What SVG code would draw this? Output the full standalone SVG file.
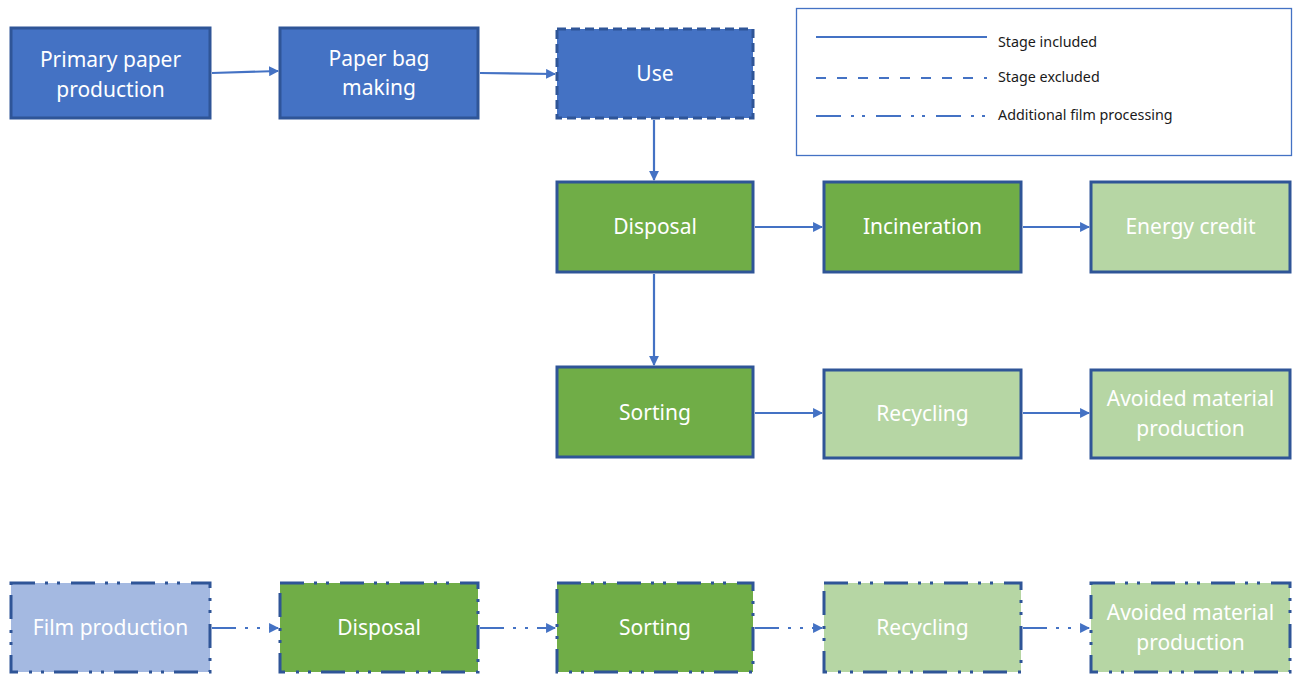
<svg xmlns="http://www.w3.org/2000/svg" width="1294" height="677" viewBox="0 0 1294 677">
  <defs>
    <marker id="arrow" viewBox="0 0 10 10" refX="9" refY="5" markerWidth="4.5" markerHeight="4.5" orient="auto" markerUnits="strokeWidth">
      <path d="M0,0 L10,5 L0,10 Z" fill="#4472C4"/>
    </marker>
    <style>
      .box { stroke: #2F5597; stroke-width: 3; }
      .blue { fill: #4472C4; }
      .lblue { fill: #A4B9E1; }
      .green { fill: #70AD47; }
      .lgreen { fill: #B6D6A4; }
      .excluded { stroke-dasharray: 9 5; }
      .film { stroke-dasharray: 24 10 3 9 3 11; }
      .label { font-family: "Noto Sans", "Open Sans", sans-serif; font-size: 21px; fill: #FFFFFF; text-anchor: middle; }
      .conn { stroke: #4472C4; stroke-width: 2.2; fill: none; }
      .conn-arrow { marker-end: url(#arrow); }
      .conn-film { stroke-dasharray: 24 9 3 9 3 9; }
      .legend-text { font-family: "Noto Sans", "Open Sans", sans-serif; font-size: 14.3px; fill: #1A1A1A; }
    </style>
  </defs>

  <!-- Legend -->
  <g id="legend">
    <rect x="796.5" y="8.5" width="495" height="147" fill="#FFFFFF" stroke="#4472C4" stroke-width="1.3"/>
    <line x1="816" y1="37" x2="987" y2="37" class="conn" stroke-width="2.6"/>
    <line x1="816" y1="78" x2="987" y2="78" class="conn" stroke-width="2.6" stroke-dasharray="10 11"/>
    <line x1="816" y1="116" x2="987" y2="116" class="conn" stroke-width="2.6" stroke-dasharray="25 10 3 8 3 11"/>
    <text x="998" y="47" class="legend-text">Stage included</text>
    <text x="998" y="82" class="legend-text">Stage excluded</text>
    <text x="998" y="120" class="legend-text">Additional film processing</text>
  </g>

  <!-- Connectors -->
  <g id="connectors">
    <line x1="212" y1="73" x2="278" y2="71" class="conn conn-arrow"/>
    <line x1="480" y1="73" x2="555" y2="74" class="conn conn-arrow"/>
    <line x1="654" y1="120" x2="654" y2="180" class="conn conn-arrow"/>
    <line x1="755" y1="227" x2="822" y2="227" class="conn conn-arrow"/>
    <line x1="1023" y1="227" x2="1089" y2="227" class="conn conn-arrow"/>
    <line x1="654" y1="274" x2="654" y2="365" class="conn conn-arrow"/>
    <line x1="755" y1="413" x2="822" y2="413" class="conn conn-arrow"/>
    <line x1="1023" y1="413" x2="1089" y2="413" class="conn conn-arrow"/>
    <line x1="212" y1="628" x2="278" y2="628" class="conn conn-film conn-arrow"/>
    <line x1="480" y1="628" x2="555" y2="628" class="conn conn-film conn-arrow"/>
    <line x1="755" y1="628" x2="822" y2="628" class="conn conn-film conn-arrow"/>
    <line x1="1023" y1="628" x2="1089" y2="628" class="conn conn-film conn-arrow"/>
  </g>

  <!-- Paper bag chain -->
  <g id="primary-paper">
    <rect x="11" y="28" width="199" height="90" class="box blue"/>
    <text x="110.5" y="67" class="label">Primary paper</text>
    <text x="110.5" y="97" class="label">production</text>
  </g>
  <g id="paper-bag-making">
    <rect x="280" y="28" width="198" height="90" class="box blue"/>
    <text x="379" y="66" class="label">Paper bag</text>
    <text x="379" y="95" class="label">making</text>
  </g>
  <g id="use">
    <rect x="557" y="29" width="196" height="89" class="box blue excluded"/>
    <text x="655" y="81" class="label">Use</text>
  </g>
  <g id="disposal">
    <rect x="557" y="182" width="196" height="90" class="box green"/>
    <text x="655" y="234" class="label">Disposal</text>
  </g>
  <g id="incineration">
    <rect x="824" y="182" width="197" height="90" class="box green"/>
    <text x="922.5" y="234" class="label">Incineration</text>
  </g>
  <g id="energy-credit">
    <rect x="1091" y="182" width="199" height="90" class="box lgreen"/>
    <text x="1190.5" y="234" class="label">Energy credit</text>
  </g>
  <g id="sorting">
    <rect x="557" y="367" width="196" height="90" class="box green"/>
    <text x="655" y="420" class="label">Sorting</text>
  </g>
  <g id="recycling">
    <rect x="824" y="370" width="197" height="88" class="box lgreen"/>
    <text x="922.5" y="421" class="label">Recycling</text>
  </g>
  <g id="avoided-material">
    <rect x="1091" y="370" width="199" height="88" class="box lgreen"/>
    <text x="1190.5" y="406" class="label">Avoided material</text>
    <text x="1190.5" y="436" class="label">production</text>
  </g>

  <!-- Film chain -->
  <g id="film-production">
    <rect x="11" y="583" width="199" height="89" class="box lblue film"/>
    <text x="110.5" y="635" class="label">Film production</text>
  </g>
  <g id="film-disposal">
    <rect x="280" y="583" width="198" height="89" class="box green film"/>
    <text x="379" y="635" class="label">Disposal</text>
  </g>
  <g id="film-sorting">
    <rect x="557" y="583" width="196" height="89" class="box green film"/>
    <text x="655" y="635" class="label">Sorting</text>
  </g>
  <g id="film-recycling">
    <rect x="824" y="583" width="197" height="89" class="box lgreen film"/>
    <text x="922.5" y="635" class="label">Recycling</text>
  </g>
  <g id="film-avoided-material">
    <rect x="1091" y="583" width="199" height="89" class="box lgreen film"/>
    <text x="1190.5" y="620" class="label">Avoided material</text>
    <text x="1190.5" y="650" class="label">production</text>
  </g>
</svg>
